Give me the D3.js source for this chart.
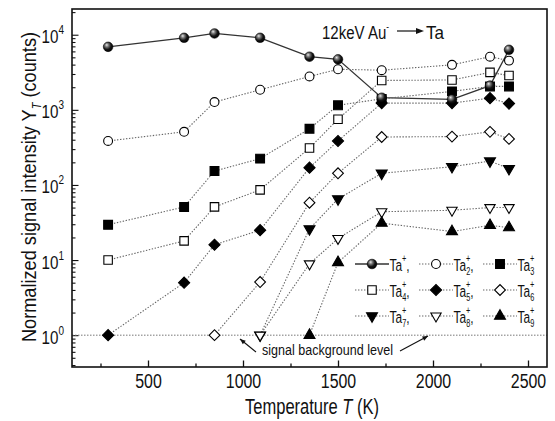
<!DOCTYPE html>
<html>
<head>
<meta charset="utf-8">
<script src="https://cdn.jsdelivr.net/npm/d3@7"></script>
<style>
  html, body { margin: 0; padding: 0; background: #fff; }
  svg { display: block; font-family: "Liberation Sans", Arial, sans-serif; }
</style>
</head>
<body>
<svg id="chart" width="555" height="421"></svg>
<script>
// temperatures (K) at which yields were measured
const temps = [290, 690, 850, 1090, 1350, 1500, 1730, 2100, 2300, 2400];

// normalized signal intensity per cluster size, null = not measured
const ta1 = [6900, 9100, 10400, 9100, 5100, 4700, 1450, 1380, 2100, 6300];
const ta2 = [385, 510, 1270, 1850, 2780, 3470, 3370, 3970, 5100, 4520];
const ta3 = [29.5, 51, 153, 224, 560, 1150, 1400, 1760, 2050, 2050];
const ta4 = [10, 18, 51, 86, 310, 750, 2460, 2500, 3150, 2860];
const ta5 = [1, 5, 16, 25, 170, 385, 1230, 1230, 1430, 1210];
const ta6 = [null, null, 1, 5.1, 58, 143, 435, 440, 510, 410];
const ta7 = [null, null, null, 1, 26, 65, 143, 175, 208, 165];
const ta8 = [null, null, null, 1, 8.9, 19.4, 44, 46, 50, 50];
const ta9 = [null, null, null, null, 1, 9.3, 31, 24, 29, 27];

const seriesNames = ['1', '2', '3', '4', '5', '6', '7', '8', '9'];
const seriesValues = [ta1, ta2, ta3, ta4, ta5, ta6, ta7, ta8, ta9];

const xTicks = [500, 1000, 1500, 2000, 2500];
const yTicks = [1, 10, 100, 1000, 10000];
const backgroundLevel = 1;

// marker look per series: shape, filled, rotation
const markers = [
  {shape: 'ball'},
  {shape: d3.symbolCircle, fill: false, size: 62, rot: 0},
  {shape: d3.symbolSquare, fill: true, size: 78, rot: 0},
  {shape: d3.symbolSquare, fill: false, size: 72, rot: 0},
  {shape: d3.symbolSquare, fill: true, size: 62, rot: 45},
  {shape: d3.symbolSquare, fill: false, size: 58, rot: 45},
  {shape: d3.symbolTriangle, fill: true, size: 52, rot: 180},
  {shape: d3.symbolTriangle, fill: false, size: 46, rot: 180},
  {shape: d3.symbolTriangle, fill: true, size: 52, rot: 0},
];

const svg = d3.select('#chart');
const margin = {left: 72, right: 8, top: 9, bottom: 54};
const W = 555, H = 421;
const NARROW = 0.76; // the original uses a condensed face

const x = d3.scaleLinear().domain([100, 2600]).range([margin.left, W - margin.right]);
const y = d3.scaleLog().domain([0.377, 22000]).range([H - margin.bottom, margin.top]);

// condensed text: a text inside a group that is squeezed horizontally
function ctext(parent, px, py, size, {anchor = 'start', rotate = 0, sx = NARROW} = {}) {
  const g = parent.append('g').attr('transform', `translate(${px},${py}) rotate(${rotate}) scale(${sx},1)`);
  const t = g.append('text').attr('font-size', size).attr('text-anchor', anchor).attr('fill', '#111');
  t.fitTo = width => {
    const len = t.node().getComputedTextLength();
    g.attr('transform', `translate(${px},${py}) rotate(${rotate}) scale(${width / len},1)`);
    return t;
  };
  return t;
}

const defs = svg.append('defs');
const grad = defs.append('radialGradient').attr('id', 'ball')
  .attr('cx', '40%').attr('cy', '38%').attr('r', '65%').attr('fx', '35%').attr('fy', '30%');
grad.append('stop').attr('offset', '0%').attr('stop-color', '#e8e8e8');
grad.append('stop').attr('offset', '30%').attr('stop-color', '#777');
grad.append('stop').attr('offset', '65%').attr('stop-color', '#151515');
grad.append('stop').attr('offset', '100%').attr('stop-color', '#000');

// axes: ticks point inward
const gx = svg.append('g').attr('transform', `translate(0,${H - margin.bottom})`);
gx.call(d3.axisBottom(x).tickValues(xTicks).tickSize(-6.5).tickPadding(6).tickFormat(d3.format('d')));
gx.append('g').call(d3.axisBottom(x).tickValues(d3.range(250, 2600, 500)).tickSize(-3.5).tickFormat(''));
gx.selectAll('.domain').remove();
gx.selectAll('line').attr('stroke', '#111').attr('stroke-width', 1.3);
gx.selectAll('text').attr('font-size', 21).attr('fill', '#111').attr('font-family', null)
  .attr('transform', `scale(${NARROW},1)`);

const gy = svg.append('g').attr('transform', `translate(${margin.left},0)`);
gy.call(d3.axisLeft(y).tickValues(yTicks).tickSize(-6.5).tickFormat(''));
gy.append('g').call(d3.axisLeft(y).tickValues(y.ticks().filter(v => Math.abs(Math.log10(v) % 1) > 1e-6)).tickSize(-3.5).tickFormat(''));
gy.selectAll('.domain').remove();
gy.selectAll('line').attr('stroke', '#111').attr('stroke-width', 1.1);

yTicks.forEach(v => {
  const t = ctext(svg, 64, y(v) + 8.5, 19, {anchor: 'end', sx: 0.8});
  t.append('tspan').text('10');
  t.append('tspan').attr('dy', -9).attr('font-size', 12.5).text(Math.round(Math.log10(v)));
});

// signal background level
svg.append('line')
  .attr('x1', x.range()[0]).attr('x2', x.range()[1])
  .attr('y1', y(backgroundLevel)).attr('y2', y(backgroundLevel))
  .attr('stroke', '#777').attr('stroke-width', 1).attr('stroke-dasharray', '1.5,1.5');

// series lines
const line = d3.line()
  .defined(d => d.v != null)
  .x(d => x(d.t)).y(d => y(d.v));

const series = seriesValues.map((vals, i) => ({
  name: seriesNames[i],
  pts: temps.map((t, j) => ({t, v: vals[j]})),
  marker: markers[i],
}));

const lineStyle = (sel, i) => sel
  .attr('stroke', i === 0 ? '#333' : '#666')
  .attr('stroke-width', i === 0 ? 1.3 : 1.1)
  .attr('stroke-dasharray', i === 0 ? null : '1.4,1.6');

svg.append('g').selectAll('path').data(series).join('path')
  .attr('d', d => line(d.pts))
  .attr('fill', 'none')
  .each(function(d, i) { lineStyle(d3.select(this), i); });

function drawMarker(g, m, cx, cy) {
  if (m.shape === 'ball') {
    g.append('circle').attr('cx', cx).attr('cy', cy).attr('r', 4.8)
      .attr('fill', 'url(#ball)').attr('stroke', '#000').attr('stroke-width', 0.6);
    return;
  }
  g.append('path')
    .attr('d', d3.symbol().type(m.shape).size(m.size)())
    .attr('transform', `translate(${cx},${cy}) rotate(${m.rot})`)
    .attr('fill', m.fill ? '#000' : '#fff')
    .attr('stroke', '#000').attr('stroke-width', 1.1);
}

// markers: Ta+ on top
const markerLayer = svg.append('g');
[1, 2, 3, 4, 5, 6, 7, 8, 0].forEach(i => {
  const s = series[i];
  s.pts.filter(p => p.v != null).forEach(p => drawMarker(markerLayer, s.marker, x(p.t), y(p.v)));
});

// frame
svg.append('rect')
  .attr('x', x.range()[0]).attr('y', y.range()[1])
  .attr('width', x.range()[1] - x.range()[0]).attr('height', y.range()[0] - y.range()[1])
  .attr('fill', 'none').attr('stroke', '#111').attr('stroke-width', 1.6);

// legend
const legendCols = [372, 436, 500];
const legendRows = [264, 290, 316];
const legend = svg.append('g');
series.forEach((s, i) => {
  const cx = legendCols[i % 3], cy = legendRows[Math.floor(i / 3)];
  legend.append('line')
    .attr('x1', cx - 17).attr('x2', cx + 17).attr('y1', cy).attr('y2', cy)
    .call(sel => lineStyle(sel, i));
  drawMarker(legend, s.marker, cx, cy);
  const t = ctext(legend, cx + 17.5, cy + 6.5, 17, {sx: 0.7});
  t.append('tspan').text('Ta');
  t.append('tspan').attr('dy', -9).attr('font-size', 10.5).text('+');
  if (i > 0) t.append('tspan').attr('dx', -6).attr('dy', 13).attr('font-size', 10.5).text(s.name);
  if (i % 3 !== 2) t.append('tspan').attr('dy', i > 0 ? -4 : 9).attr('font-size', 17).text(',');
});

// background level note
const note = svg.append('g');
ctext(note, 262, 355, 15).text('signal background level').fitTo(131);
const arrow = (x1, y1, x2, y2) => {
  note.append('line').attr('x1', x1).attr('y1', y1).attr('x2', x2).attr('y2', y2)
    .attr('stroke', '#111').attr('stroke-width', 1.1);
  const a = Math.atan2(y2 - y1, x2 - x1);
  const L = 6, sp = 0.4;
  note.append('path')
    .attr('d', `M${x2},${y2}L${x2 - L * Math.cos(a - sp)},${y2 - L * Math.sin(a - sp)}L${x2 - L * Math.cos(a + sp)},${y2 - L * Math.sin(a + sp)}Z`)
    .attr('fill', '#111');
};
arrow(256, 352, 240, 339);
arrow(400, 351, 428, 336);

// title
const tt = ctext(svg, 322, 39, 18.5);
tt.append('tspan').text('12keV Au');
tt.append('tspan').attr('dy', -9).attr('font-size', 10).text('-');
tt.fitTo(67);
svg.append('line').attr('x1', 397).attr('x2', 418).attr('y1', 31).attr('y2', 31)
  .attr('stroke', '#111').attr('stroke-width', 1.2);
svg.append('path').attr('d', 'M424,31L416,28L416,34Z').attr('fill', '#111');
ctext(svg, 426, 39, 18.5).text('Ta').fitTo(18);

// axis titles
const xt = ctext(svg, 312, 414, 21.5, {anchor: 'middle'});
xt.append('tspan').text('Temperature ');
xt.append('tspan').attr('font-style', 'italic').text('T');
xt.append('tspan').text(' (K)');
xt.fitTo(134);

const yt = ctext(svg, 36, 187, 20, {anchor: 'middle', rotate: -90});
yt.append('tspan').text('Normalized signal intensity Y');
yt.append('tspan').attr('dy', 5).attr('font-size', 12).attr('font-style', 'italic').text('T');
yt.append('tspan').attr('dy', -5).text(' (counts)');
yt.fitTo(310);
</script>
</body>
</html>
